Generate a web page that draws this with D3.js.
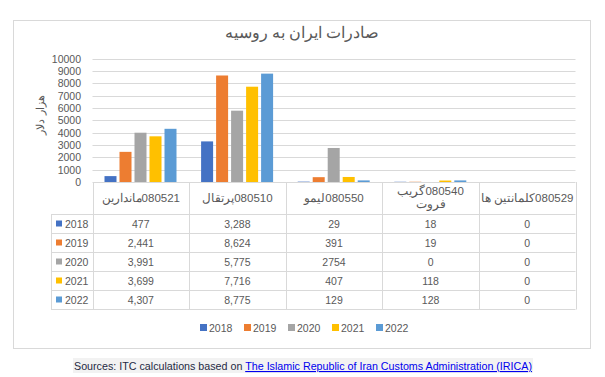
<!DOCTYPE html>
<html>
<head>
<meta charset="utf-8">
<script src="https://cdn.jsdelivr.net/npm/d3@7"></script>
<style>
  body { margin: 0; background: #fff; }
  svg text { font-family: "Liberation Sans", Arial, sans-serif; }
</style>
</head>
<body>
<div id="chart"></div>
<script>
// data
const categories = ["080521ماندارین", "080510پرتقال", "080550لیمو", "080540گریب فروت", "080529کلمانتین ها"];
const headerLines = [["080521ماندارین"], ["080510پرتقال"], ["080550لیمو"], ["080540گریب", "فروت"], ["080529کلمانتین ها"]];
const years = ["2018", "2019", "2020", "2021", "2022"];
const v2018 = [477, 3288, 29, 18, 0];
const v2019 = [2441, 8624, 391, 19, 0];
const v2020 = [3991, 5775, 2754, 0, 0];
const v2021 = [3699, 7716, 407, 118, 0];
const v2022 = [4307, 8775, 129, 128, 0];
const cellText2018 = ["477", "3,288", "29", "18", "0"];
const cellText2019 = ["2,441", "8,624", "391", "19", "0"];
const cellText2020 = ["3,991", "5,775", "2754", "0", "0"];
const cellText2021 = ["3,699", "7,716", "407", "118", "0"];
const cellText2022 = ["4,307", "8,775", "129", "128", "0"];
const yTicks = [0, 1000, 2000, 3000, 4000, 5000, 6000, 7000, 8000, 9000, 10000];
const colors = ["#4472C4", "#ED7D31", "#A5A5A5", "#FFC000", "#5B9BD5"];

const series = [v2018, v2019, v2020, v2021, v2022];
const cellTexts = [cellText2018, cellText2019, cellText2020, cellText2021, cellText2022];

const W = 605, H = 377;
const gridColor = "#D9D9D9";
const textColor = "#595959";

const svg = d3.select("#chart").append("svg")
    .attr("width", W)
    .attr("height", H);

// chart frame
svg.append("rect")
    .attr("x", 13.5).attr("y", 20.5)
    .attr("width", 577).attr("height", 328)
    .attr("fill", "#fff")
    .attr("stroke", gridColor);

svg.append("text")
    .attr("x", 302).attr("y", 38)
    .attr("text-anchor", "middle")
    .attr("font-size", 15.5)
    .attr("fill", textColor)
    .text("صادرات ایران به روسیه");

// scales
const x0 = d3.scaleBand().domain(categories).range([92.5, 575.5]);
const x1 = d3.scaleBand().domain(years).range([10.5, 85.5]).paddingInner(0.2).paddingOuter(0.1);
const y = d3.scaleLinear().domain([0, 10000]).range([182, 58.5]);
const rowY = d3.scaleBand().domain(years).range([214, 309]);

// gridlines + y labels
const grid = svg.append("g");
grid.selectAll("line")
    .data(yTicks)
    .enter().append("line")
    .attr("x1", x0.range()[0]).attr("x2", x0.range()[1])
    .attr("y1", d => Math.round(y(d)) + 0.5)
    .attr("y2", d => Math.round(y(d)) + 0.5)
    .attr("stroke", gridColor);

grid.selectAll("text")
    .data(yTicks)
    .enter().append("text")
    .attr("x", 81)
    .attr("y", d => y(d) + 4)
    .attr("text-anchor", "end")
    .attr("font-size", 10.5)
    .attr("fill", textColor)
    .text(d => d);

svg.append("text")
    .attr("transform", "translate(44,115) rotate(-90)")
    .attr("text-anchor", "middle")
    .attr("font-size", 11)
    .attr("fill", textColor)
    .text("هزار دلار");

// bars
const groups = svg.append("g").selectAll("g")
    .data(categories)
    .enter().append("g")
    .attr("transform", d => "translate(" + x0(d) + ",0)");

groups.selectAll("rect")
    .data((d, i) => years.map((yr, j) => ({ yr: yr, value: series[j][i], color: colors[j] })))
    .enter().append("rect")
    .attr("x", d => x1(d.yr))
    .attr("width", x1.bandwidth())
    .attr("y", d => y(d.value))
    .attr("height", d => y(0) - y(d.value))
    .attr("fill", d => d.color);

// data table
const table = svg.append("g");
const xs = x0.range();

// horizontal lines
table.selectAll("line.h")
    .data(years.map(yr => rowY(yr)).concat([rowY.range()[1]]))
    .enter().append("line")
    .attr("class", "h")
    .attr("x1", 51).attr("x2", xs[1])
    .attr("y1", d => Math.round(d) + 0.5).attr("y2", d => Math.round(d) + 0.5)
    .attr("stroke", gridColor);

table.append("line")
    .attr("x1", 51.5).attr("x2", 51.5)
    .attr("y1", 214).attr("y2", 309.5)
    .attr("stroke", gridColor);

table.selectAll("line.v")
    .data(categories.map(c => x0(c)).concat([xs[1]]))
    .enter().append("line")
    .attr("class", "v")
    .attr("x1", d => Math.round(d) + 0.5).attr("x2", d => Math.round(d) + 0.5)
    .attr("y1", 182).attr("y2", 309.5)
    .attr("stroke", gridColor);

// header labels (rtl so the code sits on the right of the name)
const headers = table.selectAll("text.head")
    .data(categories)
    .enter().append("text")
    .attr("class", "head")
    .attr("direction", "rtl")
    .attr("text-anchor", "middle")
    .attr("font-size", 11.5)
    .attr("fill", textColor)
    .attr("x", d => x0(d) + x0.bandwidth() / 2)
    .attr("y", (d, i) => headerLines[i].length > 1 ? 195 : 202);

headers.selectAll("tspan")
    .data((d, i) => headerLines[i])
    .enter().append("tspan")
    .attr("x", function () { return d3.select(this.parentNode).attr("x"); })
    .attr("dy", (d, k) => k === 0 ? 0 : 13)
    .text(d => d);

// row keys + labels
years.forEach((yr, j) => {
    const cy = rowY(yr) + rowY.bandwidth() / 2;
    table.append("rect")
        .attr("x", 56).attr("y", cy - 3)
        .attr("width", 6).attr("height", 6)
        .attr("fill", colors[j]);
    table.append("text")
        .attr("x", 65).attr("y", cy + 4)
        .attr("font-size", 10.5)
        .attr("fill", textColor)
        .text(yr);
    table.selectAll("text.c" + yr)
        .data(cellTexts[j])
        .enter().append("text")
        .attr("x", (d, i) => x0(categories[i]) + x0.bandwidth() / 2)
        .attr("y", cy + 4)
        .attr("text-anchor", "middle")
        .attr("font-size", 10.5)
        .attr("fill", textColor)
        .text(d => d);
});

// legend
const legend = svg.append("g").attr("transform", "translate(200,0)");
years.forEach((yr, j) => {
    legend.append("rect")
        .attr("x", j * 44).attr("y", 324)
        .attr("width", 7).attr("height", 7)
        .attr("fill", colors[j]);
    legend.append("text")
        .attr("x", j * 44 + 9).attr("y", 331.5)
        .attr("font-size", 10.5)
        .attr("fill", textColor)
        .text(yr);
});

// source line
svg.append("rect")
    .attr("x", 73).attr("y", 358)
    .attr("width", 460).attr("height", 15)
    .attr("fill", "#F2F2F2");

const src = svg.append("text")
    .attr("x", 74).attr("y", 370)
    .attr("font-size", 11)
    .attr("textLength", 458)
    .attr("lengthAdjust", "spacingAndGlyphs")
    .attr("fill", "#1F2A44");
src.append("tspan").text("Sources: ITC calculations based on ");
src.append("tspan")
    .attr("fill", "#0000EE")
    .attr("text-decoration", "underline")
    .text("The Islamic Republic of Iran Customs Administration (IRICA)");
</script>
</body>
</html>
